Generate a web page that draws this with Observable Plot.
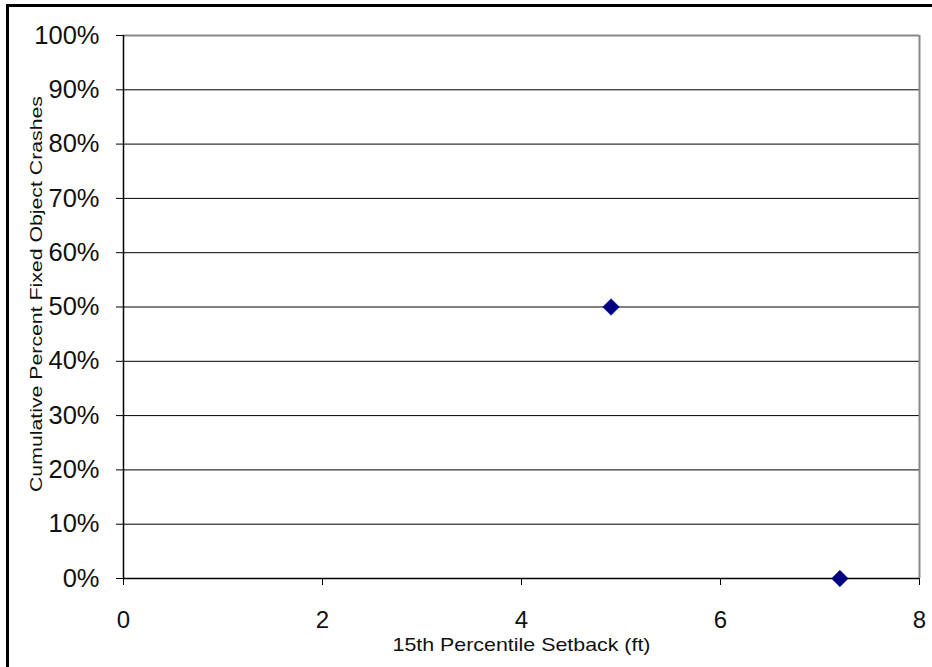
<!DOCTYPE html>
<html>
<head>
<meta charset="utf-8">
<script src="https://cdn.jsdelivr.net/npm/d3@7"></script>
<script src="https://cdn.jsdelivr.net/npm/@observablehq/plot@0.6"></script>
<style>
  html, body { margin: 0; padding: 0; background: #fff; }
  #wrap { position: relative; width: 932px; height: 667px; overflow: hidden; }
  #border { position: absolute; left: 6px; top: 4px; width: 940px; height: 700px; border-left: 3px solid #000; border-top: 3px solid #000; box-sizing: border-box; pointer-events: none; }
  #chart { position: absolute; left: 0; top: 0; }
</style>
</head>
<body>
<div id="wrap"><div id="chart"></div><div id="border"></div></div>
<script>
const setback = [4.9, 7.2];
const cumPercent = [0.5, 0];
const xTicks = [0, 2, 4, 6, 8];
const yTicks = [0, 0.1, 0.2, 0.3, 0.4, 0.5, 0.6, 0.7, 0.8, 0.9, 1.0];
const xTitle = "15th Percentile Setback (ft)";
const yTitle = "Cumulative Percent Fixed Object Crashes";

const data = setback.map((x, i) => ({x, y: cumPercent[i]}));

const plot = Plot.plot({
  width: 932,
  height: 667,
  marginLeft: 123,
  marginRight: 13,
  marginTop: 35,
  marginBottom: 89,
  style: {fontFamily: "Arial, 'Liberation Sans', sans-serif", background: "transparent", overflow: "visible"},
  x: {domain: [0, 8], ticks: xTicks, axis: null},
  y: {domain: [0, 1], ticks: yTicks, axis: null},
  marks: [
    Plot.ruleY(yTicks.filter(d => d > 0 && d < 1), {stroke: "#000", strokeWidth: 1}),
    Plot.ruleY([1], {stroke: "#888", strokeWidth: 2}),
    Plot.ruleX([8], {stroke: "#888", strokeWidth: 2}),
    Plot.ruleY([0], {stroke: "#000", strokeWidth: 1.5}),
    Plot.ruleX([0], {stroke: "#000", strokeWidth: 1.5}),
    Plot.axisY({ticks: yTicks, tickFormat: d3.format(".0%"), tickSize: 7, tickPadding: 17, fontSize: 25.5, stroke: "#000", fill: "#111", label: null}),
    Plot.axisX({ticks: xTicks, tickFormat: d => String(d), tickSize: 7, tickPadding: 25, fontSize: 24, stroke: "#000", fill: "#111", label: null}),
    Plot.dot(data, {x: "x", y: "y", symbol: "diamond2", r: 7.5, fill: "#000080", stroke: "#000080", strokeWidth: 0.5}),
    Plot.text([xTitle], {frameAnchor: "bottom", lineAnchor: "middle", dy: 66, fontSize: 19, fill: "#111"}),
    Plot.text([yTitle], {frameAnchor: "left", textAnchor: "middle", lineAnchor: "middle", dx: -87, dy: -13, rotate: -90, fontSize: 17, fill: "#111"})
  ]
});
document.getElementById("chart").appendChild(plot);
// stretch titles to the lengths seen in the reference
d3.select(plot).selectAll("text").each(function() {
  const t = this.textContent;
  if (t === xTitle) d3.select(this).attr("textLength", 258).attr("lengthAdjust", "spacingAndGlyphs");
  if (t === yTitle) d3.select(this).attr("textLength", 396).attr("lengthAdjust", "spacingAndGlyphs");
});
</script>
</body>
</html>
